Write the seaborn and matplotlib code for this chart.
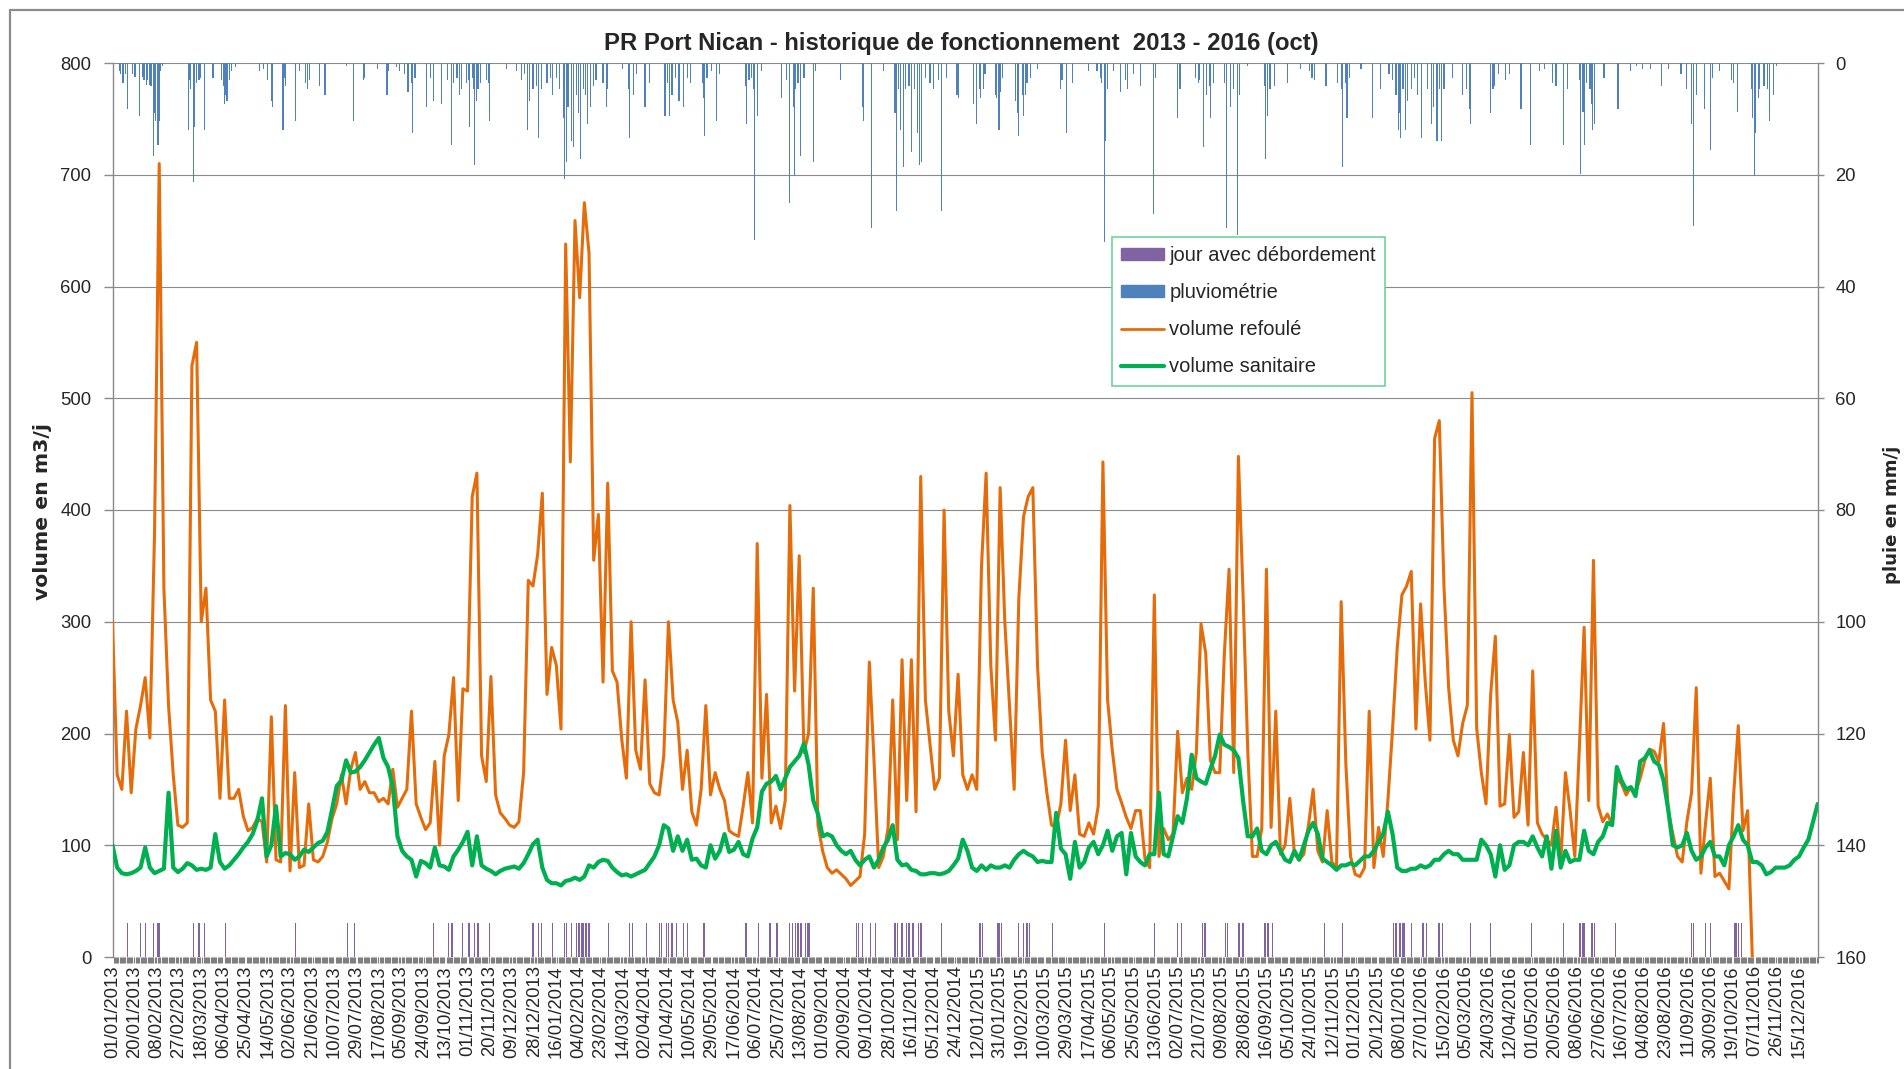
import numpy as np
import pandas as pd
import matplotlib
matplotlib.use("Agg")
import matplotlib.pyplot as plt
import seaborn as sns
from matplotlib.patches import Patch
from matplotlib.lines import Line2D

# ---------------- data ----------------
START_DATE = "2013-01-01"
N_DAYS = 1461            # 01/01/2013 .. 31/12/2016
SAMPLE_STEP = 4          # one reading every 4 days for the volume series
LABEL_EVERY = 19         # one date label every 19 days

# volume refoulé (m3/j), one value every 4 days from 01/01/2013
volume_refoule = [
    300, 163, 150, 220, 147, 204, 225, 250, 196, 380, 710, 330, 225, 163, 118, 116, 120, 529, 550, 300,
    330, 230, 220, 142, 230, 142, 142, 150, 126, 113, 116, 124, 121, 85, 215, 87, 85, 225, 77, 165,
    80, 82, 137, 87, 85, 90, 103, 124, 137, 163, 137, 168, 183, 150, 157, 147, 147, 139, 142, 137,
    168, 134,
    142, 150, 220, 137, 125, 114, 120, 175, 100, 180, 199, 250, 140, 240, 238, 412, 433, 180, 157, 251,
    145, 129, 124, 118, 116, 121, 165, 337, 332, 360, 415, 235, 277, 261, 204, 638, 443, 659, 590, 675,
    630, 355, 396, 246, 424, 256, 246, 195, 160, 300, 185, 168, 248, 155, 147, 145, 180, 300, 230, 210,
    150, 185,
    130, 118, 150, 225, 145, 165, 150, 140, 113, 110, 108, 135, 165, 120, 370, 160, 235, 120, 135, 115,
    140, 404, 238, 359, 183, 200, 330, 118, 95, 80, 75, 78, 74, 70, 64, 68, 72, 110, 264, 176,
    80, 90, 115, 230, 105, 266, 140, 266, 130, 430, 230, 190, 150, 160, 400, 220, 180, 253, 163, 150,
    163, 150,
    349, 433, 261, 194, 420, 300, 225, 150, 321, 394, 412, 420, 261, 183, 147, 118, 116, 137, 194, 131,
    163, 110, 108, 120, 110, 135, 443, 230, 185, 150, 138, 125, 115, 131, 131, 88, 80, 324, 90, 115,
    105, 110, 202, 147, 160, 150, 183, 298, 272, 176, 165, 165, 272, 347, 165, 448, 324, 185, 90, 90,
    115, 347,
    116, 220, 92, 100, 142, 92, 87, 92, 118, 150, 95, 85, 131, 85, 80, 318, 173, 90, 74, 72,
    80, 220, 80, 116, 90, 140, 204, 277, 324, 332, 345, 204, 316, 246, 194, 464, 480, 332, 241, 194,
    180, 209, 225, 505, 205, 165, 137, 235, 287, 135, 137, 199, 125, 130, 183, 118, 256, 120, 110, 105,
    100, 134,
    85, 165, 131, 90, 189, 295, 140, 355, 135, 121, 128, 118, 160, 155, 145, 152, 147, 160, 176, 186,
    184, 175, 209, 131, 110, 90, 85, 121, 147, 241, 75, 120, 160, 72, 75, 68, 61, 145, 207, 113,
    131, 0,
]

# volume sanitaire (m3/j), one value every 4 days from 01/01/2013
volume_sanitaire = [
    100, 80, 75, 74, 75, 77, 80, 98, 80, 75, 77, 79, 147, 80, 76, 79, 84, 82, 78, 79,
    78, 80, 110, 85, 79, 82, 87, 92, 98, 103, 110, 122, 142, 90, 100, 135, 90, 93, 92, 87,
    90, 96, 94, 98, 102, 104, 112, 132, 153, 158, 176, 165, 166, 170, 176, 183, 190, 196, 178, 170,
    152, 108,
    95, 90, 87, 72, 86, 84, 80, 98, 82, 81, 78, 90, 96, 103, 112, 82, 108, 82, 79, 77,
    74, 77, 79, 80, 81, 79, 84, 92, 101, 105, 80, 69, 66, 66, 64, 68, 69, 71, 69, 72,
    82, 80, 85, 87, 86, 80, 76, 73, 74, 72, 74, 76, 78, 84, 90, 100, 118, 115, 95, 108,
    95, 105,
    87, 88, 82, 80, 100, 88, 95, 110, 94, 96, 103, 92, 90, 106, 116, 148, 155, 157, 162, 150,
    160, 170, 175, 180, 191, 172, 140, 128, 108, 110, 108, 100, 95, 92, 95, 87, 82, 87, 90, 80,
    87, 98, 105, 118, 87, 82, 83, 78, 77, 74, 74, 75, 75, 74, 75, 77, 82, 88, 105, 95,
    80, 77,
    82, 78, 82, 80, 80, 82, 80, 87, 92, 95, 92, 90, 85, 86, 85, 85, 129, 97, 92, 70,
    103, 80, 85, 98, 103, 92, 100, 113, 95, 108, 111, 74, 111, 90, 85, 82, 92, 92, 147, 92,
    90, 108, 126, 120, 142, 181, 160, 157, 155, 168, 180, 199, 190, 188, 185, 178, 140, 108, 108, 115,
    95, 92,
    100, 103, 95, 87, 85, 95, 87, 100, 113, 120, 110, 88, 85, 82, 78, 82, 82, 84, 82, 86,
    90, 90, 95, 103, 110, 130, 110, 80, 77, 77, 79, 79, 82, 80, 82, 87, 87, 92, 95, 92,
    92, 87, 87, 87, 87, 105, 100, 92, 72, 100, 78, 82, 100, 103, 103, 100, 108, 98, 90, 108,
    79, 113,
    80, 95, 85, 87, 87, 113, 95, 92, 103, 108, 120, 118, 170, 158, 150, 152, 144, 175, 178, 185,
    175, 172, 158, 132, 100, 98, 100, 111, 95, 87, 90, 98, 103, 90, 90, 82, 100, 108, 118, 105,
    100, 85, 85, 82, 74, 76, 80, 80, 80, 82, 87, 90, 98, 105, 121, 137,
]

# pluviométrie: (day number since 01/01/2013, mm)
pluviometrie = [
    (6, 1.5), (7, 2), (9, 3.6), (11, 2), (13, 8.3), (17, 2), (19, 2.5), (20, 2.5), (23, 9.4), (26, 2.5),
    (27, 3), (29, 4), (30, 3), (32, 4), (33, 4.2), (35, 16.6), (36, 9), (37, 10.4), (39, 14.6), (40, 10.4),
    (41, 1.5), (43, 0.5), (65, 12), (66, 3), (67, 4.7), (69, 21.3), (70, 11.4), (72, 3.6), (74, 3.1), (75, 2.6),
    (79, 12), (86, 2.6), (93, 3.1), (95, 4.2), (96, 7.3), (97, 5.7), (98, 6.8), (100, 3.1), (102, 1.5), (105, 0.7),
    (126, 1.5), (129, 1), (133, 3.1), (136, 6.8), (137, 7.8), (146, 12), (147, 2.6), (148, 4.2), (157, 10.4), (160, 1.5),
    (165, 3.6), (167, 4.7), (169, 3.1), (177, 4.2), (182, 5.7), (200, 0.5), (206, 10.4), (215, 3.1), (216, 2.6), (227, 1),
    (235, 5.7), (236, 1.5), (243, 0.7),
    (246, 1.5), (250, 2), (253, 5.2), (256, 3.6), (257, 12.5), (259, 2.6), (269, 7.8), (272, 2.6), (275, 6.8), (282, 7.3),
    (287, 3.1), (290, 14.6), (292, 3.6), (295, 2.6), (297, 5.7), (299, 4.7), (303, 3.6), (305, 3.1), (306, 11.4), (308, 2.6),
    (309, 4.7), (310, 18.2), (312, 6.8), (313, 4.7), (315, 3.6), (320, 3.1), (322, 3.6), (323, 10.4), (337, 1), (346, 1.5),
    (350, 3.1), (353, 2), (355, 12), (357, 6.8), (360, 4.7), (363, 4.2), (365, 13.5), (367, 4.7), (372, 3.6), (375, 2.6),
    (377, 5.7), (380, 2.6), (383, 4.7), (386, 9.9), (387, 20.8), (389, 17.7), (390, 7.8), (393, 14), (395, 15), (397, 5.7),
    (399, 8.9), (401, 17.2), (403, 4.7), (405, 5.7), (407, 10.9), (409, 7.8), (412, 4.2), (414, 3.1), (420, 3.6), (423, 7.8),
    (424, 4.7), (437, 1), (442, 4.7), (443, 13.5), (446, 5.7), (449, 2), (456, 7.8), (460, 3.6), (473, 9.4), (475, 3.6),
    (477, 9.4), (479, 5.7), (482, 2.6), (485, 6.8), (489, 7.8), (492, 2.6),
    (495, 3.6), (505, 3.6), (506, 6.2), (507, 13), (509, 2.6), (513, 1.5), (517, 10.4), (520, 2), (542, 4.2), (543, 10.9),
    (545, 3.1), (547, 2.6), (549, 4.7), (550, 31.7), (552, 9.4), (556, 1.5), (573, 6.2), (577, 3.1), (580, 25), (583, 7.8),
    (584, 20.3), (585, 4.7), (587, 3.6), (589, 16.6), (592, 2.6), (600, 17.7), (602, 1.5), (623, 3.1), (642, 7.8), (643, 10.4),
    (650, 29.6), (660, 1.5), (670, 8.9), (671, 26.5), (673, 4.7), (675, 12), (677, 18.7), (679, 4.7), (682, 4.2), (684, 16),
    (687, 4.7), (689, 12.5), (691, 18.2), (693, 17.7), (696, 2.6), (700, 3.6), (703, 4.7), (707, 3.1), (710, 26.5), (714, 2.6),
    (723, 5.7), (724, 6.2), (737, 7.3), (740, 10.9), (742, 4.7),
    (743, 6.2), (746, 4.7), (747, 2), (756, 5.7), (757, 6.2), (759, 12), (760, 5.2), (762, 2.6), (773, 6.8), (775, 8.9),
    (776, 13), (779, 5.7), (780, 9.4), (782, 5.7), (783, 3.6), (786, 2.6), (792, 1), (812, 4.7), (813, 3.1), (817, 12.5),
    (822, 3.6), (836, 1.5), (843, 1.5), (846, 2.6), (847, 3.6), (849, 32), (850, 14), (852, 4.7), (857, 1.5), (863, 5.2),
    (867, 3.1), (869, 4.7), (874, 2), (880, 4.2), (891, 27), (893, 2.6), (912, 9.9), (914, 4.7), (927, 2.6), (930, 3.6),
    (931, 3.1), (934, 15), (937, 5.7), (939, 4.2), (940, 9.9), (943, 3.6), (952, 3.6), (954, 29.6), (957, 7.8), (960, 4.7),
    (963, 30.7), (965, 5.7), (972, 0.5), (986, 4.2), (987, 17.2), (989, 9.4), (991, 4.7),
    (995, 4.2), (1006, 3.6), (1017, 1), (1025, 1.5), (1027, 2.6), (1029, 3.1), (1039, 4.2), (1049, 3.6), (1052, 4.7), (1053, 18.7),
    (1056, 3.6), (1057, 9.9), (1059, 2.6), (1069, 1), (1079, 9.9), (1086, 4.7), (1093, 2), (1096, 3.1), (1099, 5.7), (1101, 12),
    (1102, 8.9), (1103, 13.5), (1105, 4.7), (1107, 12), (1109, 6.8), (1112, 4.7), (1115, 2.6), (1117, 5.7), (1121, 13.5), (1126, 4.7),
    (1129, 10.9), (1131, 7.8), (1134, 14), (1136, 4.7), (1138, 14), (1140, 4.7), (1147, 2.6), (1156, 5.7), (1159, 4.7), (1162, 8.3),
    (1163, 10.9), (1180, 8.9), (1182, 4.7), (1183, 4.2), (1187, 2), (1193, 3.1), (1196, 2), (1206, 8.3), (1214, 14.6), (1222, 1.5),
    (1226, 1), (1233, 3.6), (1236, 4.2),
    (1242, 14.6), (1246, 4.7), (1256, 3.1), (1257, 19.8), (1259, 8.8), (1260, 14.6), (1262, 3.6), (1265, 4.7), (1266, 7.3), (1267, 12),
    (1269, 10.9), (1277, 2.6), (1289, 8.3), (1300, 1.5), (1305, 0.5), (1310, 1), (1317, 1), (1326, 4.2), (1332, 1), (1343, 2),
    (1348, 4.7), (1352, 10.9), (1354, 29.1), (1356, 5.7), (1363, 8.3), (1368, 15.6), (1370, 2.6), (1376, 1.5), (1386, 3.1), (1388, 3.6),
    (1391, 8.8), (1403, 4.7), (1404, 9.9), (1406, 20.3), (1407, 12.5), (1409, 6.2), (1410, 4.7), (1414, 4.2), (1417, 4.7), (1419, 10.4),
    (1422, 5.7), (1425, 0.5),
]

# jours avec débordement (day number since 01/01/2013)
jours_debordement = [
    13, 24, 28, 35, 39, 40, 69, 74, 79, 97, 157, 201, 207,
    275, 288, 290, 291, 300, 305, 306, 310, 313, 323, 360, 365, 367, 377, 387, 389, 393, 397, 399, 400,
    402, 403, 405, 406, 408, 425, 443, 445, 457, 468, 470, 474, 476, 479, 483, 489, 492,
    506, 507, 542, 543, 553, 563, 569, 580, 582, 585, 587, 589, 590, 593, 595, 596, 597, 637, 639, 642,
    649, 653, 670, 672, 676, 680, 682, 685, 686, 690, 692, 693, 710, 742,
    743, 745, 758, 759, 761, 776, 780, 783, 785, 805, 849, 892, 912, 915, 933, 935, 936, 953, 955, 964,
    965, 968, 986, 987, 989,
    990, 993, 1038, 1053, 1097, 1099, 1102, 1103, 1105, 1106, 1112, 1122, 1125, 1135, 1136, 1139, 1163, 1180, 1215,
    1242, 1256, 1257, 1259, 1260, 1266, 1267, 1269, 1287, 1352, 1354, 1364, 1368, 1389, 1390, 1392, 1395,
]
DEBORDEMENT_VALUE = 30

TITLE = "PR Port Nican - historique de fonctionnement  2013 - 2016 (oct)"
YLABEL_LEFT = "volume en m3/j"
YLABEL_RIGHT = "pluie en mm/j"
LEGEND_LABELS = ["jour avec débordement", "pluviométrie", "volume refoulé", "volume sanitaire"]

# ---------------- styling ----------------
C_ORANGE = "#E46C0A"
C_GREEN = "#00B050"
C_BLUE = "#4F81BD"
C_PURPLE = "#8064A2"
C_GRID = "#8a8a8a"

sns.set_theme(style="white")
plt.rcParams["font.family"] = ["Liberation Sans", "DejaVu Sans"]

W, H = 1904, 1069
fig = plt.figure(figsize=(W / 100, H / 100), dpi=100)
fig.patch.set_facecolor("white")

x0, x1, y_top, y_bot = 112.5, 1817.7, 63, 957
ax = fig.add_axes([x0 / W, 1 - y_bot / H, (x1 - x0) / W, (y_bot - y_top) / H])
ax.set_facecolor("white")

df_ref = pd.DataFrame({"jour": np.arange(len(volume_refoule)) * SAMPLE_STEP,
                       "volume": volume_refoule})
df_san = pd.DataFrame({"jour": np.arange(len(volume_sanitaire)) * SAMPLE_STEP,
                       "volume": volume_sanitaire})
df_deb = pd.DataFrame({"jour": jours_debordement,
                       "valeur": [DEBORDEMENT_VALUE] * len(jours_debordement)})
df_pluie = pd.DataFrame(pluviometrie, columns=["jour", "mm"])

# overflow days (primary axis)
ax.bar(df_deb["jour"], df_deb["valeur"], width=1.0, color=C_PURPLE, linewidth=0, zorder=2)

# lines
sns.lineplot(data=df_ref, x="jour", y="volume", ax=ax, color=C_ORANGE, linewidth=2.2,
             legend=False, zorder=3)
sns.lineplot(data=df_san, x="jour", y="volume", ax=ax, color=C_GREEN, linewidth=3.0,
             legend=False, zorder=4)

ax.set_xlim(0, N_DAYS - 1)
ax.set_ylim(0, 800)
ax.set_yticks(np.arange(0, 801, 100))
ax.yaxis.grid(True, color=C_GRID, linewidth=0.8)
ax.xaxis.grid(False)
ax.set_axisbelow(True)
for s in ["top", "bottom", "right"]:
    ax.spines[s].set_visible(False)
ax.spines["left"].set_color(C_GRID)
ax.spines["left"].set_linewidth(1.0)
ax.set_xlabel("")
ax.set_ylabel("")

# x ticks: labels every 19 days, small tick every day
label_days = np.arange(0, N_DAYS, LABEL_EVERY)
start = pd.Timestamp(START_DATE)
labels = [(start + pd.Timedelta(days=int(d))).strftime("%d/%m/%Y") for d in label_days]
ax.set_xticks(label_days)
ax.set_xticklabels(labels, rotation=90, fontsize=13.3, va="top", ha="center")
ax.set_xticks(np.arange(0, N_DAYS, 1), minor=True)
ax.tick_params(axis="x", which="major", length=0, pad=6.0, bottom=True)
ax.tick_params(axis="x", which="minor", length=4.5, width=0.8, color="#7f7f7f", bottom=True)
ax.tick_params(axis="y", which="major", length=6.8, width=1.0, color=C_GRID, pad=8.5,
               labelsize=13.3, left=True)

# rain (secondary axis, inverted)
ax2 = ax.twinx()
ax2.bar(df_pluie["jour"], df_pluie["mm"], width=1.0, color=C_BLUE, linewidth=0, zorder=2)
ax2.set_ylim(160, 0)
ax2.set_yticks(np.arange(0, 161, 20))
ax2.grid(False)
for s in ["top", "bottom", "left"]:
    ax2.spines[s].set_visible(False)
ax2.spines["right"].set_color(C_GRID)
ax2.spines["right"].set_linewidth(1.0)
ax2.tick_params(axis="y", which="major", length=4.3, width=1.0, color=C_GRID, pad=8.4,
                labelsize=13.3, right=True)
ax2.set_ylabel("")
ax2.set_xlim(0, N_DAYS - 1)

# legend
handles = [
    Patch(facecolor=C_PURPLE, edgecolor=C_PURPLE),
    Patch(facecolor=C_BLUE, edgecolor=C_BLUE),
    Line2D([0], [0], color=C_ORANGE, linewidth=2.0),
    Line2D([0], [0], color=C_GREEN, linewidth=3.0),
]
leg = ax2.legend(handles, LEGEND_LABELS, loc="upper left",
                 bbox_to_anchor=((1112 - x0) / (x1 - x0), 1 - (237 - y_top) / (y_bot - y_top)),
                 borderaxespad=0, fontsize=14.5, frameon=True, fancybox=False,
                 handlelength=2.15, handleheight=0.5, handletextpad=0.25,
                 labelspacing=0.9, borderpad=0.45, framealpha=1)
leg.get_frame().set_edgecolor("#6fd39a")
leg.get_frame().set_linewidth(1.2)
leg.set_zorder(10)

# title and axis labels
fig.text(961.7 / W, 1 - 50 / H, TITLE, ha="center", va="baseline",
         fontsize=17.2, fontweight="bold", family=["Liberation Sans", "DejaVu Sans"])
fig.text(43 / W, 1 - 511.7 / H, YLABEL_LEFT, rotation=90, ha="center", va="center",
         fontsize=14.7, fontweight="bold", family=["DejaVu Sans"])
fig.text(1891.7 / W, 1 - 515 / H, YLABEL_RIGHT, rotation=90, ha="center", va="center",
         fontsize=13.1, fontweight="bold", family=["DejaVu Sans"])

# outer chart border (left and top edges visible)
fig.add_artist(Line2D([10 / W, 10 / W], [0, 1 - 10 / H], transform=fig.transFigure,
                      color="#8c8c8c", linewidth=1.6))
fig.add_artist(Line2D([10 / W, 1], [1 - 10 / H, 1 - 10 / H], transform=fig.transFigure,
                      color="#8c8c8c", linewidth=1.6))

fig.savefig("out.png", dpi=100, facecolor="white")
